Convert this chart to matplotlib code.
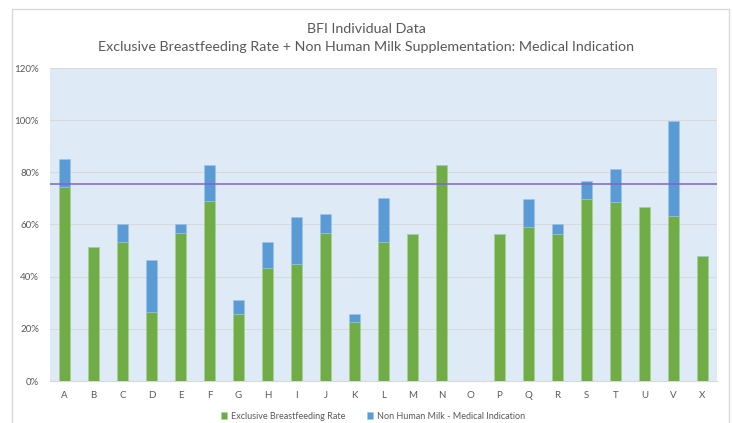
import matplotlib.pyplot as plt
from matplotlib.patches import Rectangle
from matplotlib.ticker import PercentFormatter
import numpy as np

categories = ["A", "B", "C", "D", "E", "F", "G", "H", "I", "J", "K", "L",
              "M", "N", "O", "P", "Q", "R", "S", "T", "U", "V", "X"]
ebf_rate = [74.2, 51.4, 53.3, 26.6, 56.7, 69.1, 25.8, 43.2, 45.0, 56.9, 22.8, 53.3,
            56.5, 83.0, 0.0, 56.5, 59.0, 56.5, 69.8, 68.7, 66.6, 63.4, 47.8]
nhm_medical = [11.0, 0.0, 6.8, 19.8, 3.3, 13.9, 5.2, 10.0, 17.9, 7.1, 3.0, 16.7,
               0.0, 0.0, 0.0, 0.0, 10.6, 3.5, 6.7, 12.5, 0.0, 36.4, 0.0]
target = 75.5

green = "#70AD47"
blue = "#5B9BD5"
purple = "#8064C8"
grey_txt = "#595959"

plt.rcParams['font.family'] = ['Lato', 'DejaVu Sans']

fig = plt.figure(figsize=(7.33, 4.23), dpi=100)
fig.patches.append(Rectangle((12 / 733, -0.05), 717 / 733, 1 - 9 / 423 + 0.05,
                             transform=fig.transFigure, fill=False,
                             edgecolor="#D9D9D9", linewidth=1))

ax = fig.add_axes([50 / 733, 1 - 381 / 423, 667 / 733, 313 / 423])
ax.set_facecolor("#DEEAF6")

x = np.arange(len(categories))
ax.bar(x, ebf_rate, width=0.4, color=green, edgecolor="#A9D18E", linewidth=0.4,
       label="Exclusive Breastfeeding Rate", zorder=3)
ax.bar(x, nhm_medical, width=0.4, bottom=ebf_rate, color=blue, edgecolor="#9DC3E6",
       linewidth=0.4, label="Non Human Milk - Medical Indication", zorder=3)
ax.axhline(target, color=purple, linewidth=1.1, zorder=4)

ax.set_xlim(-0.5, len(categories) - 0.5)
ax.set_ylim(0, 120)
ax.set_yticks(np.arange(0, 121, 20))
ax.yaxis.set_major_formatter(PercentFormatter(decimals=0))
ax.set_xticks(x)
ax.set_xticklabels(categories)
ax.grid(axis="y", color="#D9D9D9", linewidth=0.8, zorder=0)
ax.tick_params(length=0, labelsize=7, colors=grey_txt, pad=8)
ax.tick_params(axis="x", pad=7)
for s in ["top", "right", "left"]:
    ax.spines[s].set_visible(False)
ax.spines["bottom"].set_color("#D9D9D9")

fig.text(0.5, 1 - 29 / 423, "BFI Individual Data", ha="center", va="center",
         fontsize=10.3, color=grey_txt)
fig.text(0.5, 1 - 47 / 423,
         "Exclusive Breastfeeding Rate + Non Human Milk Supplementation: Medical Indication",
         ha="center", va="center", fontsize=10.3, color=grey_txt)

leg = fig.legend(loc="center", bbox_to_anchor=(373 / 733, 1 - 416 / 423), ncol=2,
                 frameon=False, fontsize=6.5, handlelength=0.7, handleheight=0.7,
                 handletextpad=0.4, columnspacing=2.4)
for t in leg.get_texts():
    t.set_color(grey_txt)

fig.savefig("out.png", dpi=100)
